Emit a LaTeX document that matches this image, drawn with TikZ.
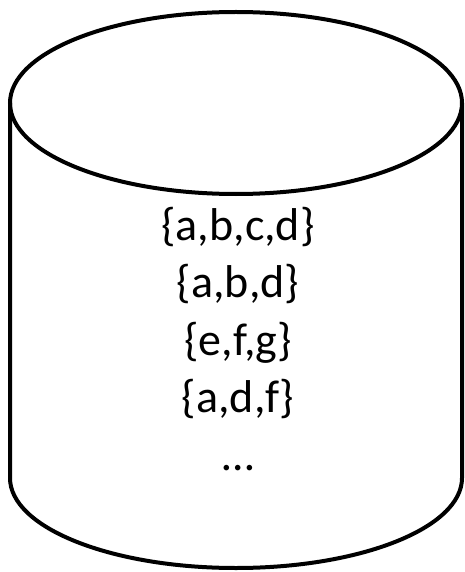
\documentclass[tikz,border=0pt]{standalone}
\usepackage{fontspec}
\setmainfont{Carlito}
\tikzset{
  cyl/.style={line width=4pt, draw=black},
  setline/.style={anchor=base, inner sep=0pt, font=\fontsize{46}{55}\selectfont}
}
\begin{document}
\begin{tikzpicture}[x=1pt,y=1pt]
\useasboundingbox (0,0) rectangle (464,-572);
% body
\draw[cyl] (10,-103) -- (10,-478) arc[start angle=180,end angle=360,x radius=226,y radius=90] -- (462,-103);
% top ellipse
\draw[cyl] (236,-103) ellipse[x radius=226,y radius=91];
% contents
\node[setline] (l1) at (238,-240) {\{a,b,c,d\}};
\node[setline] (l2) at (238,-297.5) {\{a,b,d\}};
\node[setline] (l3) at (238,-355) {\{e,f,g\}};
\node[setline] (l4) at (238,-412.5) {\{a,d,f\}};
\node[setline] (l5) at (238,-470) {…};
\end{tikzpicture}
\end{document}
